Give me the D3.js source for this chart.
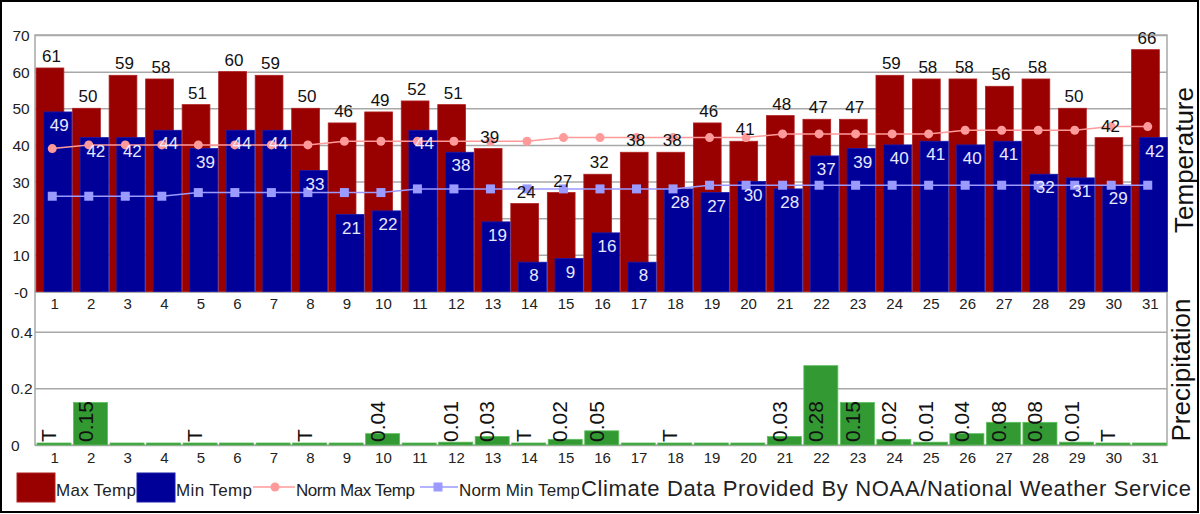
<!DOCTYPE html>
<html>
<head>
<meta charset="utf-8">
<script src="https://cdn.jsdelivr.net/npm/d3@7"></script>
<style>
  body { margin: 0; background: #fff; }
  svg { display: block; font-family: "Liberation Sans", Arial, sans-serif; }
</style>
</head>
<body>
<div id="chart"></div>
<script>
// data
const days = ["1","2","3","4","5","6","7","8","9","10","11","12","13","14","15","16",
              "17","18","19","20","21","22","23","24","25","26","27","28","29","30","31"];
const maxTemp = [61,50,59,58,51,60,59,50,46,49,52,51,39,24,27,32,38,38,46,41,48,47,47,59,58,58,56,58,50,42,66];
const minTemp = [49,42,42,44,39,44,44,33,21,22,44,38,19,8,9,16,8,28,27,30,28,37,39,40,41,40,41,32,31,29,42];
const normMax = [39,40,40,40,40,40,40,40,41,41,41,41,41,41,42,42,42,42,42,42,43,43,43,43,43,44,44,44,44,45,45];
const normMin = [26,26,26,26,27,27,27,27,27,27,28,28,28,28,28,28,28,28,29,29,29,29,29,29,29,29,29,29,29,29,29];
const precip = ["T","0.15","0","0","T","0","0","T","0","0.04","0","0.01","0.03","T","0.02","0.05",
                "0","T","0","0","0.03","0.28","0.15","0.02","0.01","0.04","0.08","0.08","0.01","T","0"];
const tempTicks = [0,10,20,30,40,50,60,70];
const tempTickLabels = ["-0","10","20","30","40","50","60","70"];
const precipTicks = [0,0.2,0.4];
const precipTickLabels = ["0","0.2","0.4"];

// layout
const width = 1200, height = 514;
const left = 35, right = 1167;
const tTop = 35, tBottom = 291.5;
const pTop = 292, pBottom = 445;

const svg = d3.select("#chart")
  .append("svg")
    .attr("width", width)
    .attr("height", height);

svg.append("rect")
  .attr("width", width).attr("height", height)
  .attr("fill", "#fff");

const x = d3.scaleBand()
  .domain(days)
  .range([left, right])
  .padding(0);
const bw = x.bandwidth();

const yT = d3.scaleLinear().domain([0, 70]).range([tBottom, tTop]);
const yP = d3.scaleLinear().domain([0, 0.54]).range([pBottom, pTop]);

// ---- temperature panel ----
const gridT = svg.append("g")
  .attr("transform", `translate(${left},0)`)
  .call(d3.axisLeft(yT)
    .tickValues(tempTicks)
    .tickSize(-(right - left))
    .tickFormat((d, i) => tempTickLabels[i]));
gridT.select(".domain").remove();
gridT.selectAll("line").attr("stroke", "#a8a8a8").attr("stroke-width", 1.5);
gridT.selectAll("text")
  .attr("x", 21 - left)
  .attr("dy", "0.36em")
  .attr("text-anchor", "middle")
  .attr("fill", "#222")
  .style("font-size", "15.5px");

svg.append("rect")
  .attr("x", left).attr("y", tTop)
  .attr("width", right - left).attr("height", tBottom - tTop)
  .attr("fill", "none")
  .attr("stroke", "#a8a8a8")
  .attr("stroke-width", 1.5);

// ---- precipitation panel ----
const gridP = svg.append("g")
  .attr("transform", `translate(${left},0)`)
  .call(d3.axisLeft(yP)
    .tickValues(precipTicks)
    .tickSize(-(right - left))
    .tickFormat((d, i) => precipTickLabels[i]));
gridP.select(".domain").remove();
gridP.selectAll("line").attr("stroke", "#a8a8a8").attr("stroke-width", 1.5);
gridP.selectAll("text")
  .attr("x", 11 - left)
  .attr("dy", "0.36em")
  .attr("text-anchor", "start")
  .attr("fill", "#222")
  .style("font-size", "15.5px");

svg.append("rect")
  .attr("x", left).attr("y", pTop)
  .attr("width", right - left).attr("height", pBottom - pTop)
  .attr("fill", "none")
  .attr("stroke", "#a8a8a8")
  .attr("stroke-width", 1.5);

// bars: max temp
svg.append("g")
  .selectAll("rect")
  .data(maxTemp)
  .join("rect")
    .attr("x", (d, i) => x(days[i]) + 0.03 * bw)
    .attr("y", d => yT(d))
    .attr("width", 0.76 * bw)
    .attr("height", d => yT(0) - yT(d))
    .attr("fill", "#990000")
    .attr("stroke", "#b02020")
    .attr("stroke-width", 0.8);

// bars: min temp
svg.append("g")
  .selectAll("rect")
  .data(minTemp)
  .join("rect")
    .attr("x", (d, i) => x(days[i]) + 0.24 * bw)
    .attr("y", d => yT(d))
    .attr("width", 0.77 * bw)
    .attr("height", d => yT(0) - yT(d))
    .attr("fill", "#000099")
    .attr("stroke", "#1a1aaa")
    .attr("stroke-width", 0.8);

// normal lines
const cx = i => x(days[i]) + bw / 2 - 1;

svg.append("path")
  .datum(normMax)
  .attr("fill", "none")
  .attr("stroke", "#ff9a9a")
  .attr("stroke-width", 1.5)
  .attr("d", d3.line().x((d, i) => cx(i)).y(d => yT(d)));
svg.append("g")
  .selectAll("circle")
  .data(normMax)
  .join("circle")
    .attr("cx", (d, i) => cx(i))
    .attr("cy", d => yT(d))
    .attr("r", 4.5)
    .attr("fill", "#ff9a9a");

svg.append("path")
  .datum(normMin)
  .attr("fill", "none")
  .attr("stroke", "#9a9aff")
  .attr("stroke-width", 1.5)
  .attr("d", d3.line().x((d, i) => cx(i)).y(d => yT(d)));
svg.append("g")
  .selectAll("rect")
  .data(normMin)
  .join("rect")
    .attr("x", (d, i) => cx(i) - 4.5)
    .attr("y", d => yT(d) - 4.5)
    .attr("width", 9)
    .attr("height", 9)
    .attr("fill", "#9a9aff");

// value labels
svg.append("g")
  .selectAll("text")
  .data(maxTemp)
  .join("text")
    .attr("x", (d, i) => x(days[i]) + 0.41 * bw + 1.5)
    .attr("y", d => yT(d) - 6)
    .attr("text-anchor", "middle")
    .attr("fill", "#111")
    .style("font-size", "17px")
    .text(d => d);

svg.append("g")
  .selectAll("text")
  .data(minTemp)
  .join("text")
    .attr("x", (d, i) => x(days[i]) + 0.625 * bw + 1.5)
    .attr("y", d => yT(d) + 19)
    .attr("text-anchor", "middle")
    .attr("fill", "#e8e8ff")
    .style("font-size", "17px")
    .text(d => d);

// x labels, both panels
[[tBottom, 308.5], [pBottom, 463]].forEach(([base, ty]) => {
  const ax = svg.append("g")
    .attr("transform", `translate(0,${base})`)
    .call(d3.axisBottom(x).tickSize(0));
  ax.select(".domain").remove();
  ax.selectAll("text")
    .attr("y", ty - base)
    .attr("dy", 0)
    .attr("dx", 1.5)
    .attr("fill", "#222")
    .style("font-size", "15px");
});

// precip bars
svg.append("g")
  .selectAll("rect")
  .data(precip)
  .join("rect")
    .attr("x", (d, i) => x(days[i]) + 2)
    .attr("y", d => Math.min(yP(+d || 0), pBottom - 2))
    .attr("width", bw - 2.5)
    .attr("height", d => Math.max(yP(0) - yP(+d || 0), 2))
    .attr("fill", "#339933")
    .attr("stroke", "#5cbf5c")
    .attr("stroke-width", 0.8);

// precip labels (rotated)
svg.append("g")
  .selectAll("text")
  .data(precip)
  .join("text")
    .attr("transform", (d, i) => `translate(${x(days[i]) + bw / 2 + 3},${pBottom - 3}) rotate(-90)`)
    .attr("text-anchor", "start")
    .attr("fill", "#111")
    .style("font-size", "21px")
    .text(d => d === "0" ? "" : d);

// panel titles
svg.append("text")
  .attr("transform", `translate(1193,160) rotate(-90)`)
  .attr("text-anchor", "middle")
  .attr("fill", "#111")
  .style("font-size", "26px")
  .text("Temperature");

svg.append("text")
  .attr("transform", `translate(1190,370) rotate(-90)`)
  .attr("text-anchor", "middle")
  .attr("fill", "#111")
  .style("font-size", "26px")
  .text("Precipitation");

// legend
const legend = svg.append("g").style("font-size", "17px").attr("fill", "#222");
legend.append("rect").attr("x", 17).attr("y", 473).attr("width", 38).attr("height", 29)
  .attr("fill", "#990000").attr("stroke", "#b02020");
legend.append("text").attr("x", 56).attr("y", 496).attr("textLength", 80).text("Max Temp");
legend.append("rect").attr("x", 137).attr("y", 473).attr("width", 38).attr("height", 29)
  .attr("fill", "#000099").attr("stroke", "#1a1aaa");
legend.append("text").attr("x", 176).attr("y", 496).attr("textLength", 76).text("Min Temp");
legend.append("line").attr("x1", 253).attr("x2", 295).attr("y1", 487).attr("y2", 487)
  .attr("stroke", "#ff9a9a").attr("stroke-width", 1.5);
legend.append("circle").attr("cx", 275).attr("cy", 487).attr("r", 4.5).attr("fill", "#ff9a9a");
legend.append("text").attr("x", 296).attr("y", 496).attr("textLength", 119).text("Norm Max Temp");
legend.append("line").attr("x1", 420).attr("x2", 458).attr("y1", 487).attr("y2", 487)
  .attr("stroke", "#9a9aff").attr("stroke-width", 1.5);
legend.append("rect").attr("x", 433.5).attr("y", 482.5).attr("width", 9).attr("height", 9).attr("fill", "#9a9aff");
legend.append("text").attr("x", 459).attr("y", 496).attr("textLength", 121).text("Norm Min Temp");

svg.append("rect").attr("x", 579).attr("y", 474).attr("width", 614).attr("height", 28).attr("fill", "#fff");
svg.append("text")
  .attr("x", 581).attr("y", 496)
  .attr("textLength", 610)
  .attr("fill", "#222")
  .style("font-size", "22px")
  .text("Climate Data Provided By NOAA/National Weather Service");

// outer frame
svg.append("rect")
  .attr("x", 1).attr("y", 1)
  .attr("width", width - 3).attr("height", height - 3)
  .attr("fill", "none")
  .attr("stroke", "#000")
  .attr("stroke-width", 2);
</script>
</body>
</html>
